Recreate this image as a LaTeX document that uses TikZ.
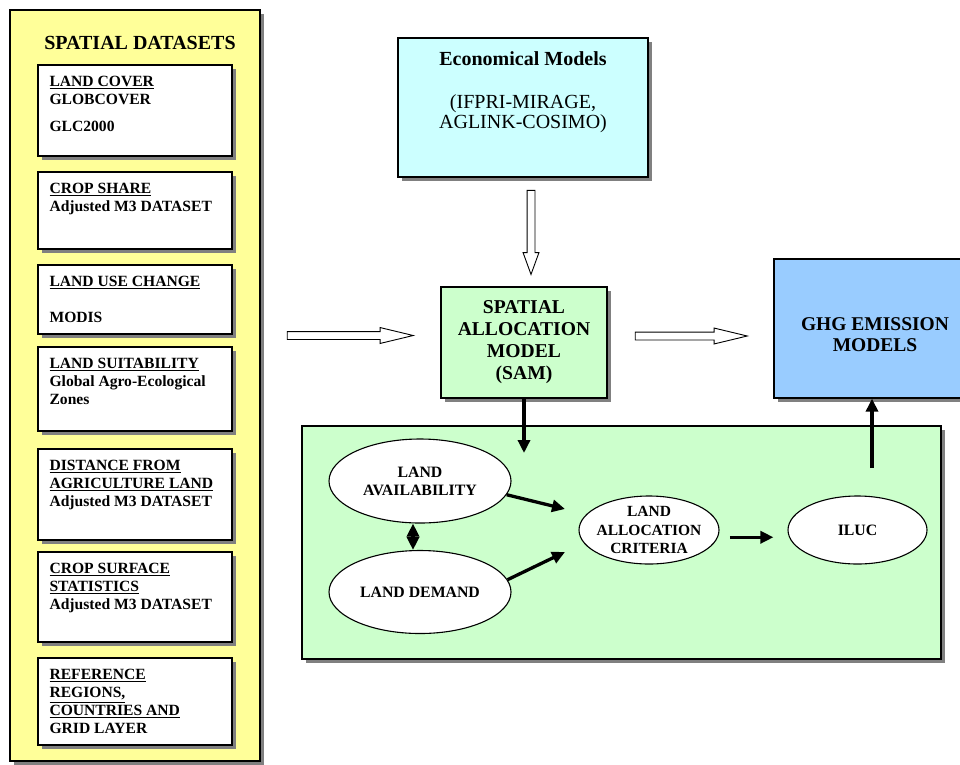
\documentclass[tikz,border=0pt]{standalone}
\usepackage{fontspec}
\setmainfont{Liberation Serif}
\usetikzlibrary{shapes.geometric,shapes.arrows,shadows,arrows.meta}
\definecolor{panelyellow}{HTML}{FFFF99}
\definecolor{samgreen}{HTML}{CCFFCC}
\definecolor{econcyan}{HTML}{CCFFFF}
\definecolor{ghgblue}{HTML}{99CCFF}
\definecolor{shadowgray}{HTML}{808080}
\tikzset{
  shadowed/.style={drop shadow={shadow xshift=4pt,shadow yshift=-4pt,fill=shadowgray,opacity=1}},
  panel/.style={draw=black,line width=1.3pt,shadowed,inner sep=0pt},
  databox/.style={panel,fill=white,minimum width=194pt},
  datatext/.style={anchor=north west,inner sep=0pt,align=left,font=\fontsize{15.6}{18}\selectfont\bfseries},
  oval/.style={ellipse,draw=black,line width=1.1pt,fill=white,inner sep=0pt,align=center,font=\fontsize{15.8}{18}\selectfont\bfseries},
  hollow/.style={single arrow,draw=black,line width=0.9pt,fill=white,inner sep=0pt,text height=3.5pt,text depth=3.5pt,minimum width=15pt,single arrow head extend=4pt},
  conn/.style={line width=3.3pt,-{Triangle[length=13pt,width=12pt]}},
  twoway/.style={line width=3.3pt,{Triangle[length=13pt,width=12pt]}-{Triangle[length=13pt,width=12pt]}}
}
\begin{document}
\begin{tikzpicture}[x=1pt,y=-1pt]
\useasboundingbox (0,0) rectangle (960,764);
\node[panel,fill=panelyellow,minimum width=250pt,minimum height=751pt] (datasets) at (135,385.5) {};
\node[font=\fontsize{20}{24}\selectfont\bfseries] (datatitle) at (140,43) {SPATIAL DATASETS};
\node[databox,minimum height=91pt] (cover) at (135,110.5) {};
\node[databox,minimum height=77pt] (share) at (135,210.5) {};
\node[databox,minimum height=69pt] (change) at (135,299.5) {};
\node[databox,minimum height=84pt] (suit) at (135,389) {};
\node[databox,minimum height=91pt] (dist) at (135,494.5) {};
\node[databox,minimum height=90pt] (surf) at (135,597) {};
\node[databox,minimum height=87pt] (regions) at (135,701.5) {};
\node[datatext] (covertext) at ([xshift=12pt,yshift=-12pt]cover.north west) {\underline{LAND COVER}\\GLOBCOVER\\[9pt]GLC2000};
\node[datatext] (sharetext) at ([xshift=12pt,yshift=-12pt]share.north west) {\underline{CROP SHARE}\\Adjusted M3 DATASET};
\node[datatext] (changetext) at ([xshift=12pt,yshift=-12pt]change.north west) {\underline{LAND USE CHANGE}\\[18pt]MODIS};
\node[datatext] (suittext) at ([xshift=12pt,yshift=-12pt]suit.north west) {\underline{LAND SUITABILITY}\\Global Agro-Ecological\\Zones};
\node[datatext] (disttext) at ([xshift=12pt,yshift=-12pt]dist.north west) {\underline{DISTANCE FROM}\\\underline{AGRICULTURE LAND}\\Adjusted M3 DATASET};
\node[datatext] (surftext) at ([xshift=12pt,yshift=-12pt]surf.north west) {\underline{CROP SURFACE}\\\underline{STATISTICS}\\Adjusted M3 DATASET};
\node[datatext] (regionstext) at ([xshift=12pt,yshift=-12pt]regions.north west) {\underline{REFERENCE}\\\underline{REGIONS,}\\\underline{COUNTRIES AND}\\GRID LAYER};
\node[panel,fill=econcyan,minimum width=250pt,minimum height=139pt] (econ) at (523,107.5) {};
\node[anchor=north,inner sep=0pt,align=center,font=\fontsize{20}{17.5}\selectfont] (econtext) at ([yshift=-14pt]econ.north) {\textbf{Economical Models}\\[26pt](IFPRI-MIRAGE,\\AGLINK-COSIMO)};
\node[panel,fill=samgreen,minimum width=166pt,minimum height=111pt,align=center,font=\fontsize{19.6}{22}\selectfont\bfseries] (sam) at (524,342.5) {SPATIAL\\ALLOCATION\\MODEL\\(SAM)};
\node[panel,fill=ghgblue,minimum width=202pt,minimum height=139pt] (ghg) at (875,328.5) {};
\node[align=center,inner sep=0pt,font=\fontsize{19.5}{21}\selectfont\bfseries] (ghgtext) at (875,334.5) {GHG EMISSION\\MODELS};
\node[panel,fill=samgreen,minimum width=639pt,minimum height=233pt] (allocation) at (621.5,542.5) {};
\node[oval,minimum width=182pt,minimum height=84pt] (avail) at (420,481) {LAND\\AVAILABILITY};
\node[oval,minimum width=182pt,minimum height=83pt] (demand) at (420,592) {LAND DEMAND};
\node[oval,minimum width=140pt,minimum height=68pt,inner xsep=-8pt,font=\fontsize{15.5}{18.5}\selectfont\bfseries] (crit) at (649,530) {LAND\\ALLOCATION\\CRITERIA};
\node[oval,minimum width=139pt,minimum height=68pt] (iluc) at (857.5,530) {ILUC};
\node[hollow,minimum height=126pt,single arrow tip angle=27] (toSAM) at (342,335.5) {};
\node[hollow,minimum height=112pt,single arrow tip angle=27] (toGHG) at (683,336) {};
\node[hollow,text width=7pt,minimum height=84pt,single arrow tip angle=40,shape border rotate=270] (fromEcon) at (531,227) {};
\coordinate (samin) at (524,453);
\coordinate (critin1) at (565,509);
\coordinate (critin2) at (565,552);
\coordinate (ilucout) at (872,468);
\draw[conn] (sam.south) -- (samin);
\draw[conn] (avail.-9) -- (critin1);
\draw[conn] (demand.8) -- (critin2);
\draw[conn,shorten <=12pt,shorten >=14pt] (crit.-6) -- (crit.-6 -| iluc.west);
\draw[conn] (ilucout) -- (ilucout |- ghg.south);
\draw[twoway] ([xshift=-7pt]avail.south) -- ([xshift=-7pt]demand.north);
\end{tikzpicture}
\end{document}
